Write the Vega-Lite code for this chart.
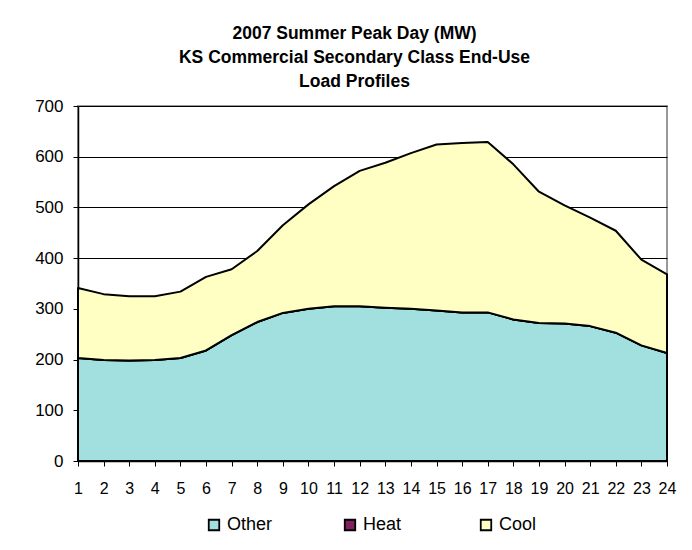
{
  "$schema": "https://vega.github.io/schema/vega-lite/v6.json",
  "width": 589,
  "height": 355,
  "autosize": {"type": "none"},
  "padding": {"left": 78, "top": 106, "right": 25, "bottom": 89},
  "background": "white",
  "title": {
    "text": ["2007 Summer Peak Day (MW)", "KS Commercial Secondary Class End-Use", "Load Profiles"],
    "font": "Liberation Sans",
    "fontSize": 17.5,
    "fontWeight": "bold",
    "lineHeight": 24,
    "color": "black",
    "anchor": "middle",
    "frame": "group",
    "offset": 7,
    "dx": -18
  },
  "data": {
    "values": [
      {"h": 1, "s": "Other", "v": 203}, {"h": 1, "s": "Heat", "v": 0}, {"h": 1, "s": "Cool", "v": 138},
      {"h": 2, "s": "Other", "v": 199}, {"h": 2, "s": "Heat", "v": 0}, {"h": 2, "s": "Cool", "v": 130},
      {"h": 3, "s": "Other", "v": 198}, {"h": 3, "s": "Heat", "v": 0}, {"h": 3, "s": "Cool", "v": 127},
      {"h": 4, "s": "Other", "v": 199}, {"h": 4, "s": "Heat", "v": 0}, {"h": 4, "s": "Cool", "v": 126},
      {"h": 5, "s": "Other", "v": 203}, {"h": 5, "s": "Heat", "v": 0}, {"h": 5, "s": "Cool", "v": 131},
      {"h": 6, "s": "Other", "v": 218}, {"h": 6, "s": "Heat", "v": 0}, {"h": 6, "s": "Cool", "v": 145},
      {"h": 7, "s": "Other", "v": 248}, {"h": 7, "s": "Heat", "v": 0}, {"h": 7, "s": "Cool", "v": 130},
      {"h": 8, "s": "Other", "v": 274}, {"h": 8, "s": "Heat", "v": 0}, {"h": 8, "s": "Cool", "v": 140},
      {"h": 9, "s": "Other", "v": 292}, {"h": 9, "s": "Heat", "v": 0}, {"h": 9, "s": "Cool", "v": 173},
      {"h": 10, "s": "Other", "v": 300}, {"h": 10, "s": "Heat", "v": 0}, {"h": 10, "s": "Cool", "v": 206},
      {"h": 11, "s": "Other", "v": 305}, {"h": 11, "s": "Heat", "v": 0}, {"h": 11, "s": "Cool", "v": 237},
      {"h": 12, "s": "Other", "v": 305}, {"h": 12, "s": "Heat", "v": 0}, {"h": 12, "s": "Cool", "v": 267},
      {"h": 13, "s": "Other", "v": 302}, {"h": 13, "s": "Heat", "v": 0}, {"h": 13, "s": "Cool", "v": 286},
      {"h": 14, "s": "Other", "v": 300}, {"h": 14, "s": "Heat", "v": 0}, {"h": 14, "s": "Cool", "v": 307},
      {"h": 15, "s": "Other", "v": 297}, {"h": 15, "s": "Heat", "v": 0}, {"h": 15, "s": "Cool", "v": 327},
      {"h": 16, "s": "Other", "v": 293}, {"h": 16, "s": "Heat", "v": 0}, {"h": 16, "s": "Cool", "v": 334},
      {"h": 17, "s": "Other", "v": 293}, {"h": 17, "s": "Heat", "v": 0}, {"h": 17, "s": "Cool", "v": 336},
      {"h": 18, "s": "Other", "v": 279}, {"h": 18, "s": "Heat", "v": 0}, {"h": 18, "s": "Cool", "v": 306},
      {"h": 19, "s": "Other", "v": 272}, {"h": 19, "s": "Heat", "v": 0}, {"h": 19, "s": "Cool", "v": 259},
      {"h": 20, "s": "Other", "v": 271}, {"h": 20, "s": "Heat", "v": 0}, {"h": 20, "s": "Cool", "v": 233},
      {"h": 21, "s": "Other", "v": 266}, {"h": 21, "s": "Heat", "v": 0}, {"h": 21, "s": "Cool", "v": 214},
      {"h": 22, "s": "Other", "v": 253}, {"h": 22, "s": "Heat", "v": 0}, {"h": 22, "s": "Cool", "v": 201},
      {"h": 23, "s": "Other", "v": 228}, {"h": 23, "s": "Heat", "v": 0}, {"h": 23, "s": "Cool", "v": 169},
      {"h": 24, "s": "Other", "v": 213}, {"h": 24, "s": "Heat", "v": 0}, {"h": 24, "s": "Cool", "v": 155}
    ]
  },
  "mark": {"type": "area", "stroke": "black", "strokeWidth": 2, "strokeJoin": "round"},
  "encoding": {
    "x": {
      "field": "h",
      "type": "quantitative",
      "scale": {"domain": [1, 24], "nice": false, "zero": false},
      "axis": {
        "title": null,
        "values": [1,2,3,4,5,6,7,8,9,10,11,12,13,14,15,16,17,18,19,20,21,22,23,24],
        "grid": false,
        "domainColor": "black",
        "domainWidth": 1.5,
        "tickColor": "black",
        "tickSize": 5,
        "tickWidth": 1,
        "labelFont": "Liberation Sans",
        "labelFontSize": 16,
        "labelColor": "black",
        "labelPadding": 14,
        "labelFlush": false,
        "labelOverlap": false
      }
    },
    "y": {
      "field": "v",
      "type": "quantitative",
      "stack": "zero",
      "scale": {"domain": [0, 700], "nice": false},
      "axis": {
        "title": null,
        "values": [0, 100, 200, 300, 400, 500, 600, 700],
        "grid": true,
        "gridColor": "black",
        "gridWidth": 1,
        "domainColor": "black",
        "domainWidth": 1.5,
        "tickColor": "black",
        "tickSize": 5,
        "labelFont": "Liberation Sans",
        "labelFontSize": 17,
        "labelColor": "black",
        "labelPadding": 10,
        "labelFlush": false
      }
    },
    "color": {
      "field": "s",
      "type": "nominal",
      "sort": ["Other", "Heat", "Cool"],
      "scale": {"domain": ["Other", "Heat", "Cool"], "range": ["#A2DFDF", "#80205F", "#FFFFC4"]},
      "legend": {
        "title": null,
        "orient": "none",
        "legendX": 127,
        "legendY": 410,
        "padding": 0,
        "direction": "horizontal",
        "columns": 3,
        "gridAlign": "all",
        "columnPadding": 68,
        "symbolType": "square",
        "symbolSize": 110,
        "symbolStrokeColor": "black",
        "symbolStrokeWidth": 1.5,
        "symbolOpacity": 1,
        "labelFont": "Liberation Sans",
        "labelFontSize": 18,
        "labelColor": "black",
        "labelOffset": 4,
        "encode": {
          "symbols": {
            "update": {
              "stroke": {"value": "black"},
              "strokeWidth": {"value": 1.8}
            }
          }
        }
      }
    },
    "order": {"field": "s", "sort": "descending"}
  },
  "config": {
    "view": {"stroke": "#999999", "strokeWidth": 2},
    "axis": {"gridOpacity": 1}
  }
}
